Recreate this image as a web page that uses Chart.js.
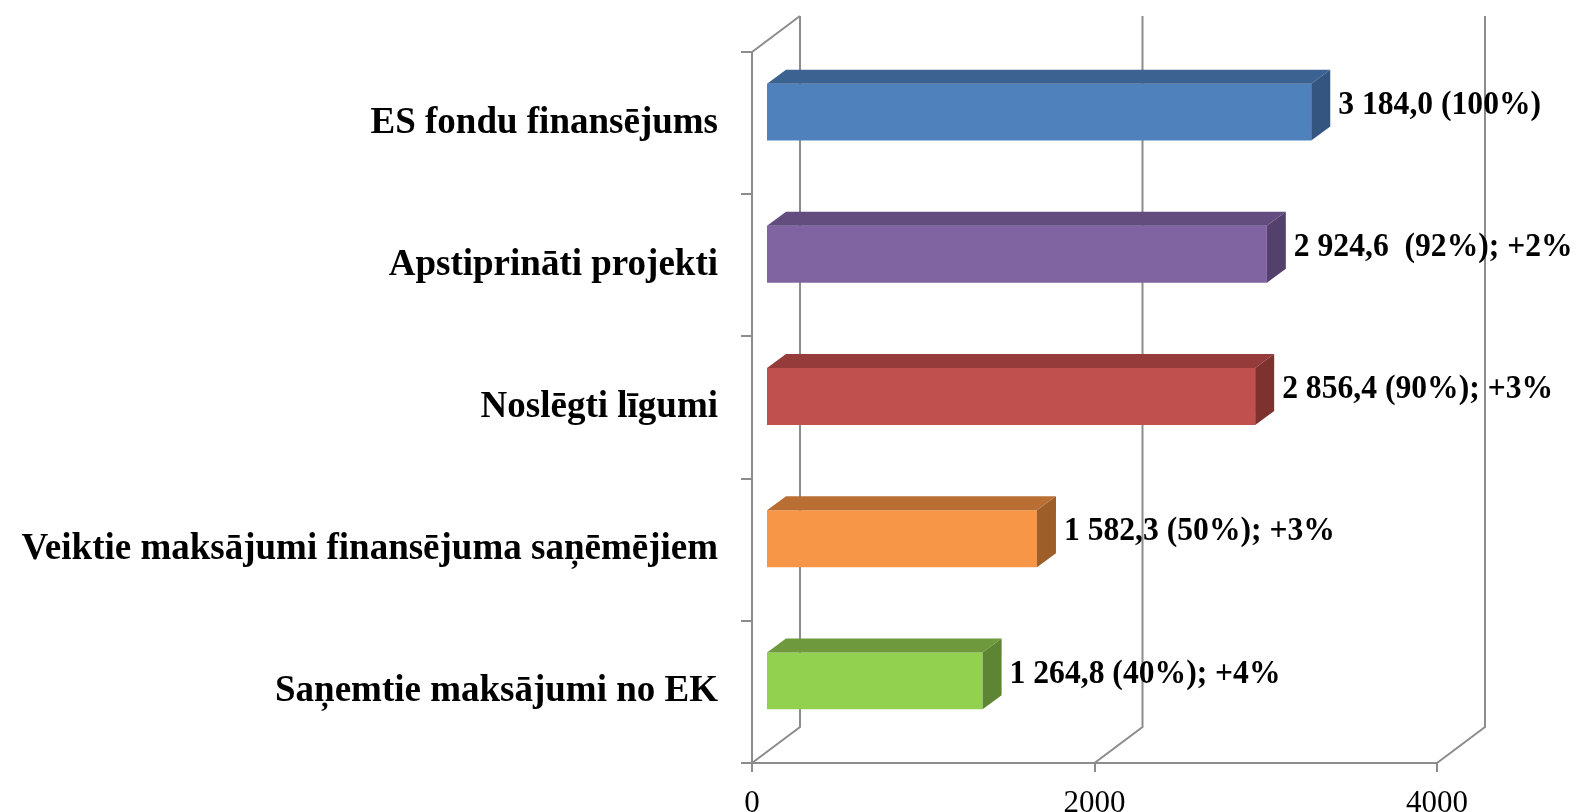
<!DOCTYPE html>
<html>
<head>
<meta charset="utf-8">
<script src="https://cdn.jsdelivr.net/npm/chart.js@4/dist/chart.umd.min.js"></script>
<style>
  body { margin: 0; background: #fff; }
  canvas { display: block; }
</style>
</head>
<body>
<canvas id="chart" width="1579" height="812"></canvas>
<script>
const categories = [
    "ES fondu finansējums",
    "Apstiprināti projekti",
    "Noslēgti līgumi",
    "Veiktie maksājumi finansējuma saņēmējiem",
    "Saņemtie maksājumi no EK"
];
const values = [3184.0, 2924.6, 2856.4, 1582.3, 1264.8];
const valueLabels = [
    "3 184,0 (100%)",
    "2 924,6  (92%); +2%",
    "2 856,4 (90%); +3%",
    "1 582,3 (50%); +3%",
    "1 264,8 (40%); +4%"
];
const xTickLabels = ["0", "2000", "4000"];

const frontColors = ["#4F81BD", "#8064A2", "#C0504D", "#F79646", "#92D050"];
const topColors   = ["#3C6291", "#634D7F", "#953C3A", "#B96F33", "#6E9A3D"];
const sideColors  = ["#345580", "#54406C", "#7D3230", "#9E5E2A", "#5E8534"];

const GRID = "#8c8c8c";
const FONT = "'Liberation Serif', 'Times New Roman', serif";

// 3D offsets
const WALL_DX = 48, WALL_DY = -36;   // depth of the back wall
const BAR_OX = 14, BAR_OY = -11;     // bar front face shift into the box
const BAR_DX = 19, BAR_DY = -14;     // depth of each bar

const box3d = {
    id: "box3d",
    beforeDatasetsDraw(chart) {
        const ctx = chart.ctx;
        const { top, bottom, left } = chart.chartArea;
        const xs = chart.scales.x;
        ctx.save();
        ctx.strokeStyle = GRID;
        ctx.lineWidth = 2;
        ctx.beginPath();
        // left wall top edge
        ctx.moveTo(left, top);
        ctx.lineTo(left + WALL_DX, top + WALL_DY);
        xs.ticks.forEach(t => {
            const px = xs.getPixelForValue(t.value);
            ctx.moveTo(px + WALL_DX, top + WALL_DY);
            ctx.lineTo(px + WALL_DX, bottom + WALL_DY);
            ctx.lineTo(px, bottom);
        });
        ctx.stroke();
        ctx.restore();

        ctx.save();
        ctx.translate(BAR_OX, BAR_OY);
    },
    afterDatasetsDraw(chart) {
        const ctx = chart.ctx;
        const meta = chart.getDatasetMeta(0);
        meta.data.forEach((bar, i) => {
            const t = bar.y - bar.height / 2;
            const b = bar.y + bar.height / 2;
            const x0 = bar.base, x1 = bar.x;
            // top face
            ctx.fillStyle = topColors[i];
            ctx.beginPath();
            ctx.moveTo(x0, t);
            ctx.lineTo(x0 + BAR_DX, t + BAR_DY);
            ctx.lineTo(x1 + BAR_DX, t + BAR_DY);
            ctx.lineTo(x1, t);
            ctx.closePath();
            ctx.fill();
            // side face
            ctx.fillStyle = sideColors[i];
            ctx.beginPath();
            ctx.moveTo(x1, t);
            ctx.lineTo(x1 + BAR_DX, t + BAR_DY);
            ctx.lineTo(x1 + BAR_DX, b + BAR_DY);
            ctx.lineTo(x1, b);
            ctx.closePath();
            ctx.fill();
        });
        ctx.restore();

        // value labels (slightly condensed like the original)
        ctx.save();
        ctx.fillStyle = "#000";
        ctx.font = "bold 34px " + FONT;
        ctx.textAlign = "left";
        ctx.textBaseline = "middle";
        meta.data.forEach((bar, i) => {
            ctx.save();
            ctx.translate(bar.x + BAR_OX + BAR_DX + 8, bar.y + BAR_OY + BAR_DY / 2);
            ctx.scale(0.93, 1);
            ctx.fillText(valueLabels[i], 0, 0);
            ctx.restore();
        });
        ctx.restore();
    }
};

new Chart(document.getElementById("chart"), {
    type: "bar",
    data: {
        labels: categories,
        datasets: [{
            data: values,
            backgroundColor: frontColors,
            borderWidth: 0,
            categoryPercentage: 1,
            barPercentage: 0.4
        }]
    },
    options: {
        indexAxis: "y",
        responsive: false,
        animation: false,
        devicePixelRatio: 1,
        layout: { padding: { top: 52, right: 142, left: 0, bottom: 0 } },
        plugins: {
            legend: { display: false },
            tooltip: { enabled: false }
        },
        scales: {
            y: {
                afterFit(s) { s.width = 752; },
                grid: {
                    drawOnChartArea: false,
                    tickLength: 11,
                    color: GRID,
                    lineWidth: 2,
                    offset: true
                },
                border: { color: GRID, width: 2 },
                ticks: {
                    color: "#000",
                    padding: 23,
                    font: { family: FONT, size: 37, weight: "bold" }
                }
            },
            x: {
                min: 0,
                max: 4000,
                afterFit(s) { s.height = 49; },
                grid: {
                    drawOnChartArea: false,
                    tickLength: 9,
                    color: GRID,
                    lineWidth: 2
                },
                border: { color: GRID, width: 2 },
                ticks: {
                    stepSize: 2000,
                    color: "#000",
                    padding: 13,
                    font: { family: FONT, size: 31 },
                    callback: (v, i) => xTickLabels[i]
                }
            }
        }
    },
    plugins: [box3d]
});
</script>
</body>
</html>
